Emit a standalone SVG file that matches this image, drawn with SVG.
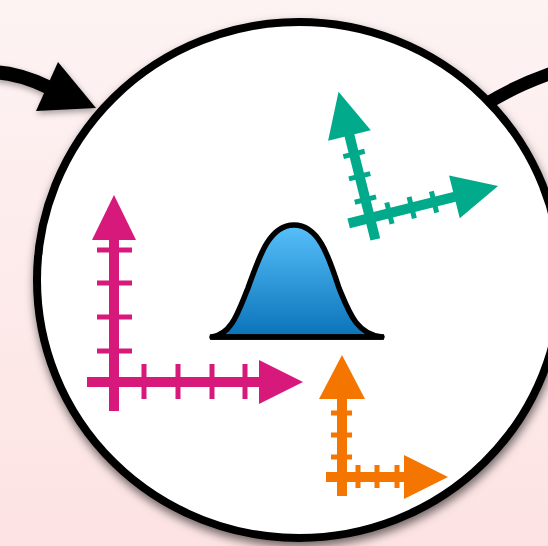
<svg xmlns="http://www.w3.org/2000/svg" width="548" height="546" viewBox="0 0 548 546">
  <defs>
    <linearGradient id="bg" x1="0" y1="0" x2="0" y2="1">
      <stop offset="0" stop-color="#fdf3f3"/>
      <stop offset="1" stop-color="#fde3e3"/>
    </linearGradient>
    <linearGradient id="bell" x1="0" y1="0" x2="0" y2="1">
      <stop offset="0" stop-color="#57c0fa"/>
      <stop offset="1" stop-color="#0a72b8"/>
    </linearGradient>
    <filter id="shadow" x="-20%" y="-20%" width="140%" height="140%">
      <feDropShadow dx="1" dy="5" stdDeviation="5" flood-color="#000" flood-opacity="0.55"/>
    </filter>
    <filter id="softShadow" x="-30%" y="-30%" width="160%" height="160%">
      <feDropShadow dx="1" dy="3" stdDeviation="3" flood-color="#000" flood-opacity="0.35"/>
    </filter>
    <style>
      .link { fill: none; stroke: #000; stroke-linecap: butt; }
      .magenta { fill: #d6197b; }
      .orange { fill: #f47500; }
      .green { fill: #00aa8a; }
    </style>
  </defs>

  <rect width="548" height="546" fill="url(#bg)"/>

  <!-- connectors entering and leaving the main node -->
  <g id="connectors">
    <g filter="url(#softShadow)">
      <path class="link" d="M-5,72 Q22,74 50,88" stroke-width="14"/>
      <polygon points="58,62 36,111 96,108" fill="#000"/>
    </g>
    <path class="link" d="M486,104 Q515,86 552,73" stroke-width="13"/>
  </g>

  <!-- main node -->
  <g id="node-main">
    <ellipse cx="299" cy="280" rx="262" ry="258" fill="#fff" stroke="#000" stroke-width="8" filter="url(#shadow)"/>
  </g>

  <!-- normal distribution -->
  <g id="node-bell">
    <path d="M212,337 C232,334 238,312 248,288 C260,254 270,225 294,225 C318,225 328,254 339,288 C349,312 356,334 382,337 Z"
          fill="url(#bell)" stroke="#000" stroke-width="5.5" stroke-linejoin="round"/>
    <line x1="210" y1="337" x2="384" y2="337" stroke="#000" stroke-width="5.5"/>
  </g>

  <!-- magenta axes -->
  <g id="node-axes-magenta" class="magenta">
    <rect x="109" y="238" width="10" height="173"/>
    <rect x="87" y="377" width="173" height="10"/>
    <polygon points="114,195 92,240 136,240"/>
    <polygon points="303,382 259,360 259,404"/>
    <rect x="97" y="247.5" width="35" height="5"/>
    <rect x="97" y="280.5" width="35" height="5"/>
    <rect x="97" y="314.5" width="35" height="5"/>
    <rect x="97" y="348.5" width="35" height="5"/>
    <rect x="141.5" y="364" width="5" height="35"/>
    <rect x="175.5" y="364" width="5" height="35"/>
    <rect x="209.5" y="364" width="5" height="35"/>
    <rect x="242.5" y="364" width="5" height="35"/>
  </g>

  <!-- orange axes -->
  <g id="node-axes-orange" class="orange">
    <rect x="337" y="397" width="10" height="99"/>
    <rect x="326" y="472" width="80" height="10"/>
    <polygon points="342,355 319,399 365,399"/>
    <polygon points="448,477 404,455 404,499"/>
    <rect x="331" y="410.5" width="21" height="5"/>
    <rect x="331" y="432.5" width="21" height="5"/>
    <rect x="331" y="454.5" width="21" height="5"/>
    <rect x="355.5" y="465" width="5" height="23"/>
    <rect x="374.5" y="465" width="5" height="23"/>
    <rect x="394.5" y="465" width="5" height="23"/>
  </g>

  <!-- green axes, tilted -->
  <g id="node-axes-green" class="green" transform="translate(370,218) rotate(-14)">
    <rect x="-5" y="-87" width="10" height="109"/>
    <rect x="-22" y="-5" width="110" height="10"/>
    <polygon points="0,-130 -22,-85 22,-85"/>
    <polygon points="132,0 87,-22 87,22"/>
    <rect x="-11" y="-68.5" width="22" height="5"/>
    <rect x="-11" y="-45.5" width="22" height="5"/>
    <rect x="-11" y="-21.5" width="22" height="5"/>
    <rect x="17.5" y="-11" width="5" height="22"/>
    <rect x="40.5" y="-11" width="5" height="22"/>
    <rect x="63.5" y="-11" width="5" height="22"/>
  </g>
</svg>
